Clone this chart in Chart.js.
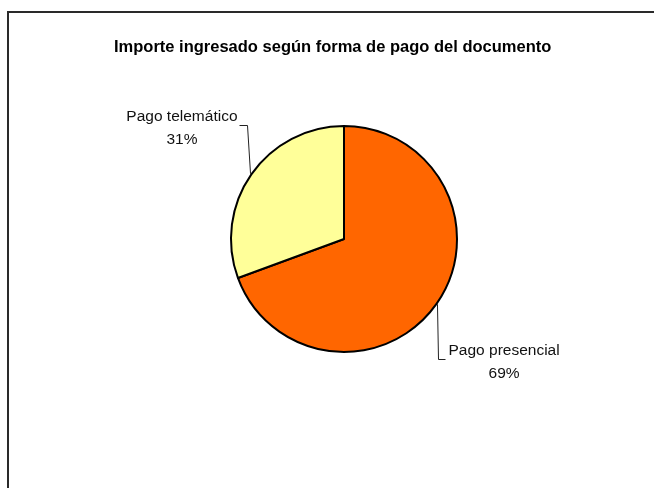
<!DOCTYPE html>
<html>
<head>
<meta charset="utf-8">
<script src="https://cdn.jsdelivr.net/npm/chart.js@4.4.0/dist/chart.umd.min.js"></script>
<style>
    html, body { margin: 0; padding: 0; background: #fff; overflow: hidden; }
    #wrap { position: relative; width: 654px; height: 488px; }
    #frame {
        position: absolute; left: 7px; top: 11px; width: 700px; height: 520px;
        border-left: 2px solid #2a2a2a; border-top: 2px solid #2a2a2a;
        pointer-events: none;
    }
    canvas { position: absolute; left: 0; top: 0; }
</style>
</head>
<body>
<div id="wrap">
    <canvas id="pieChart" width="654" height="488"></canvas>
    <div id="frame"></div>
</div>
<script>
const categories = ["Pago presencial", "Pago telemático"];
const shares = [69.4, 30.6];
const sliceColors = ["#FF6600", "#FFFF99"];
const chartTitle = "Importe ingresado según forma de pago del documento";

// where the leader line bends, relative to the point on the rim
const labelElbows = [
    { dx: 1, dy: 55, side: "right" },
    { dx: -4, dy: -49, side: "left" }
];

const outsideLabels = {
    id: "outsideLabels",
    afterDatasetsDraw(chart) {
        const ctx = chart.ctx;
        const meta = chart.getDatasetMeta(0);
        const total = shares.reduce((a, b) => a + b, 0);
        ctx.save();
        ctx.font = "15.5px 'Liberation Sans', Arial, sans-serif";
        ctx.fillStyle = "#111";
        ctx.strokeStyle = "#222";
        ctx.lineWidth = 1;
        meta.data.forEach((arc, i) => {
            const p = arc.getProps(["x", "y", "startAngle", "endAngle", "outerRadius"], true);
            const mid = (p.startAngle + p.endAngle) / 2;
            const r = p.outerRadius + 1;
            const sx = p.x + Math.cos(mid) * r;
            const sy = p.y + Math.sin(mid) * r;
            const el = labelElbows[i];
            const ex = Math.round(sx + el.dx) + 0.5;
            const ey = Math.round(sy + el.dy) + 0.5;
            const hx = el.side === "right" ? ex + 7 : ex - 8;
            ctx.beginPath();
            ctx.moveTo(sx, sy);
            ctx.lineTo(ex, ey);
            ctx.lineTo(hx, ey);
            ctx.stroke();

            const name = categories[i];
            const pct = Math.round(shares[i] / total * 100) + "%";
            const w = ctx.measureText(name).width;
            const left = el.side === "right" ? hx + 3 : hx - 2 - w;
            const cx = left + w / 2;
            ctx.textAlign = "center";
            ctx.textBaseline = "alphabetic";
            ctx.fillText(name, cx, ey - 5);
            ctx.fillText(pct, cx, ey + 18);
        });
        ctx.restore();
    }
};

const ctx = document.getElementById("pieChart").getContext("2d");
const pieChart = new Chart(ctx, {
    type: "pie",
    data: {
        labels: categories,
        datasets: [{
            data: shares,
            backgroundColor: sliceColors,
            borderColor: "#000",
            borderWidth: 2
        }]
    },
    options: {
        responsive: false,
        animation: false,
        layout: { padding: { left: 114, right: 80, top: 20, bottom: 135 } },
        plugins: {
            legend: { display: false },
            tooltip: { enabled: false },
            title: {
                display: true,
                text: chartTitle,
                align: "start",
                color: "#000",
                font: { family: "'Liberation Sans', Arial, sans-serif", size: 16.5, weight: "bold", lineHeight: 1.2 },
                padding: { top: 18, bottom: 67.2 }
            }
        }
    },
    plugins: [outsideLabels]
});
</script>
</body>
</html>
